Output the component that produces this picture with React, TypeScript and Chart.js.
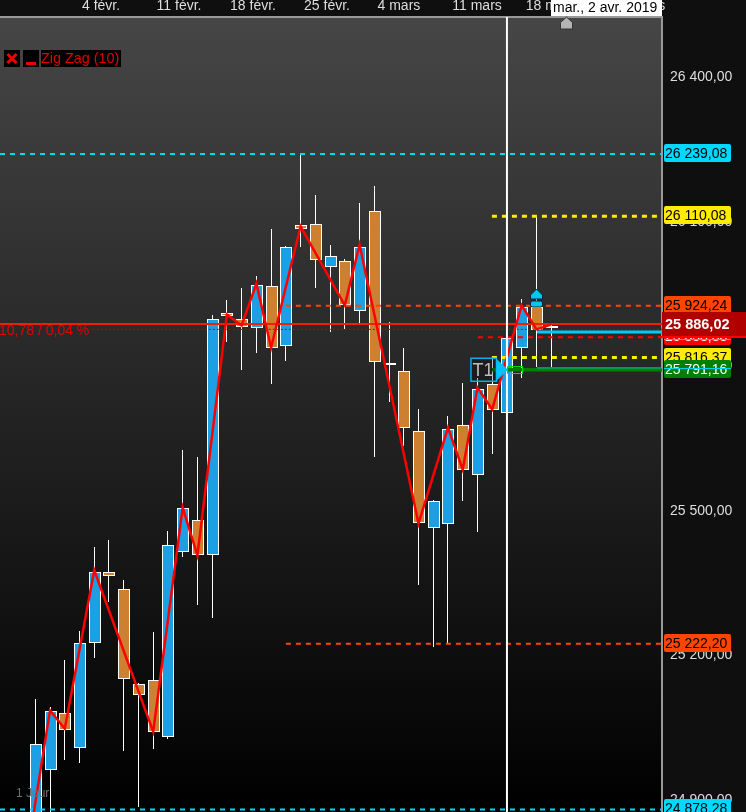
import React, { useEffect, useRef } from "react";
import { Chart, registerables } from "chart.js";

Chart.register(...registerables);

const FONT = '"Liberation Sans", Arial, sans-serif';

// Candles (index 0 = 29 janv.)
const opens = [24850, 24961, 25078, 25005, 25223, 25372, 25337, 25138, 25148, 25028, 25412, 25480, 25406, 25910, 25896, 25877, 25966, 25840, 26091, 26093, 26004, 26016, 25914, 26120, 25806, 25788, 25665, 25462, 25470, 25676, 25572, 25761, 25702, 25837, 25922, 25877];
const closes = [25015, 25082, 25044, 25223, 25372, 25362, 25150, 25115, 25040, 25428, 25505, 25406, 25896, 25902, 25879, 25968, 25837, 26047, 26084, 26020, 26028, 25925, 26047, 25808, 25802, 25671, 25472, 25518, 25669, 25584, 25752, 25707, 25858, 25922, 25873, 25881];
const highs = [25107, 25090, 25188, 25248, 25424, 25437, 25354, 25140, 25246, 25457, 25624, 25611, 25904, 25937, 25960, 25985, 26084, 26049, 26236, 26153, 26051, 26022, 26138, 26172, 25891, 25837, 25709, 25520, 25696, 25763, 25775, 25817, 25873, 25939, 26109, 25889];
const lows = [24830, 24874, 24980, 24974, 25192, 25310, 24999, 24884, 25003, 25024, 25403, 25302, 25275, 25848, 25790, 25825, 25761, 25810, 26047, 25960, 25869, 25875, 25889, 25609, 25725, 25632, 25345, 25215, 25221, 25518, 25455, 25617, 25696, 25775, 25796, 25796];

// Zig Zag (10)
const zigIndex = [-1, 1, 2, 4, 8, 10, 11, 13, 14, 15, 16, 18, 21, 22, 26, 28, 29, 30, 31, 33, 34, 35];
const zigValue = [24700, 25084, 25046, 25375, 25040, 25505, 25406, 25906, 25883, 25970, 25837, 26089, 25925, 26051, 25472, 25671, 25584, 25754, 25709, 25925, 25875, 25885];

// Axes
const xMin = -2.395;
const xMax = 42.52;
const yMin = 24873;
const yMax = 26523.5;
const xTickValues = [4.46, 9.75, 14.77, 19.79, 24.67, 29.97, 34.99, 41.03];
const xTickLabels = ["4 févr.", "11 févr.", "18 févr.", "25 févr.", "4 mars", "11 mars", "18 mars", "25 mars"];
const crosshairIndex = 32;

// Price levels: value, first index, colour, width, dash
const levelValues = [26239.08, 26110.08, 25924.24, 25886.02, 25875, 25869.6, 25858.38, 25816.37, 25795, 25791.16, 25222.2, 24878.28];
const levelStarts = [xMin, 30.98, 17, xMin, 3.9, 34.04, 30.03, 30.98, 34.04, 30.98, 17, xMin];
const levelColors = ["#00d8ff", "#ffec00", "#ff4500", "#f02000", "#c80000", "#00c8ff", "#ff0000", "#ffec00", "#00c0e8", "#008000", "#ff4500", "#00d8ff"];
const levelWidths = [2, 3, 2, 2, 1, 3, 2, 3, 1, 3.5, 2, 2];
const levelDashes = [[5, 5], [5, 5], [5, 5], [], [2, 2], [], [5, 5], [5, 5], [], [], [5, 5], [5, 5]];

// Badges on the price axis
const badgeValues = [26239.08, 26110.08, 25222.2, 24878.28, 25858.38, 25924.24, 25816.37, 25791.16];
const badgeLabels = ["26 239,08", "26 110,08", "25 222,20", "24 878,28", "25 858,38", "25 924,24", "25 816,37", "25 791,16"];
const badgeFills = ["#00d8ff", "#ffec00", "#ff4500", "#00d8ff", "#ff0000", "#ff4500", "#ffec00", "#008000"];
const badgeInks = ["#000", "#000", "#000", "#000", "#fff", "#000", "#000", "#fff"];

const priceLabel = (v: number) => {
  const s = v.toFixed(2).replace(".", ",");
  return s.slice(0, 2) + " " + s.slice(2);
};

const candleLook = {
  up: "#1ca0e3",
  down: "#cc8030",
};

const overlays = {
  id: "overlays",
  beforeDraw(chart: any) {
    const { ctx, chartArea: a, width, height } = chart;
    ctx.save();
    ctx.fillStyle = "#0f0f0f";
    ctx.fillRect(0, 0, width, height);
    const g = ctx.createLinearGradient(0, a.top, 0, a.bottom);
    g.addColorStop(0, "#464646");
    g.addColorStop(1, "#000000");
    ctx.fillStyle = g;
    ctx.fillRect(a.left, a.top, a.right - a.left, a.bottom - a.top);
    ctx.restore();
  },
  beforeDatasetsDraw(chart: any) {
    chart.data.datasets.forEach((d: any, i: number) => {
      if (d.type === "line") return;
      chart.getDatasetMeta(i).data.forEach((el: any, k: number) => {
        const snapped = Math.round(chart.scales.x.getPixelForValue(d.data[k].x) - 0.5) + 0.5;
        el.x = i === 1 ? snapped + 0.5 : snapped;
        el.y = Math.round(el.y);
        el.base = Math.round(el.base);
      });
    });
  },
  afterDraw(chart: any) {
    const { ctx, scales, chartArea: a, width } = chart;
    const X = (v: number) => scales.x.getPixelForValue(v);
    const Y = (v: number) => scales.y.getPixelForValue(v);
    ctx.save();
    ctx.textBaseline = "middle";
    ctx.textAlign = "left";

    // Badges
    ctx.font = `14px ${FONT}`;
    badgeValues.forEach((v, i) => {
      const cy = Math.round(Y(v)) - 1;
      ctx.fillStyle = badgeFills[i];
      ctx.beginPath();
      ctx.roundRect(a.right + 2, cy - 9, 67, 18, 2);
      ctx.fill();
      ctx.fillStyle = badgeInks[i];
      ctx.fillText(badgeLabels[i], a.right + 3, cy + 1);
    });
    // Cyan level edges over two badges
    ctx.fillStyle = "#00d0f0";
    ctx.fillRect(a.right + 2, Math.round(Y(25854)), 67, 1);
    ctx.fillRect(a.right + 2, Math.round(Y(25795)), 67, 1);

    // Last price
    const ly = Y(25886.02);
    ctx.fillStyle = "#b00000";
    ctx.fillRect(a.right, Math.round(ly) - 12, width - a.right, 25);
    ctx.fillStyle = "#fff";
    ctx.font = `bold 14.5px ${FONT}`;
    ctx.fillText(priceLabel(25886.02), a.right + 3, ly + 1);
    ctx.fillStyle = "#ff0000";
    ctx.fillRect(a.right - 4, Math.round(Y(25858.38)) - 1, width - a.right + 4, 2);

    // Variation label
    ctx.font = `14px ${FONT}`;
    ctx.fillStyle = "#e60000";
    ctx.fillText("10,78 / 0,04 %", a.left - 1, Y(25875) + 2);

    // Legend
    ctx.fillStyle = "#000";
    ctx.fillRect(4, 50, 16, 17);
    ctx.fillRect(23, 50, 16, 17);
    ctx.fillRect(41, 50, 80, 17);
    ctx.strokeStyle = "#f00000";
    ctx.lineWidth = 3;
    ctx.beginPath();
    ctx.moveTo(7.5, 54);
    ctx.lineTo(16.5, 63);
    ctx.moveTo(16.5, 54);
    ctx.lineTo(7.5, 63);
    ctx.stroke();
    ctx.fillStyle = "#f00000";
    ctx.fillRect(26, 62, 10, 3);
    ctx.font = `14.4px ${FONT}`;
    ctx.fillStyle = "#e60000";
    ctx.fillText("Zig Zag (10)", 41, 59);

    // Period
    ctx.fillStyle = "#707070";
    ctx.font = `12px ${FONT}`;
    ctx.fillText("1 Jour", 16, 794);

    // Alert marker on candle index 34
    const mx = Math.round(X(34)) + 0.5;
    const my = Math.round(Y(25958));
    ctx.fillStyle = "#00c8f0";
    ctx.strokeStyle = "#102030";
    ctx.lineWidth = 1;
    ctx.beginPath();
    ctx.moveTo(mx, my);
    ctx.lineTo(mx + 6, my + 6);
    ctx.lineTo(mx + 6, my + 10);
    ctx.lineTo(mx - 6, my + 10);
    ctx.lineTo(mx - 6, my + 6);
    ctx.closePath();
    ctx.fill();
    ctx.stroke();
    ctx.beginPath();
    ctx.roundRect(mx - 6, my + 12, 12, 6, 2);
    ctx.fill();
    ctx.stroke();

    // T1 order flag
    const tx = X(31.22);
    const ty = Y(25791.16);
    ctx.strokeStyle = "#00b0f0";
    ctx.lineWidth = 1.5;
    ctx.fillStyle = "rgba(0,0,0,0.25)";
    ctx.fillRect(tx - 24.5, ty - 11.5, 25.5, 23);
    ctx.strokeRect(tx - 24.5, ty - 11.5, 25.5, 23);
    ctx.fillStyle = "#bdbdbd";
    ctx.font = `18px ${FONT}`;
    ctx.fillText("T1", tx - 23, ty + 1);
    ctx.fillStyle = "#00c0ff";
    ctx.beginPath();
    ctx.moveTo(tx + 1, ty - 11);
    ctx.lineTo(tx + 12.5, ty);
    ctx.lineTo(tx + 1, ty + 11);
    ctx.closePath();
    ctx.fill();
    ctx.strokeStyle = "#00e000";
    ctx.lineWidth = 1;
    ctx.strokeRect(Math.round(X(crosshairIndex)) + 0.5, Math.round(ty) - 3.5, 15, 7);

    // Crosshair date box
    ctx.fillStyle = "#fff";
    ctx.fillRect(551, 0, a.right - 551, 16);
    ctx.fillStyle = "#000";
    ctx.font = `14px ${FONT}`;
    ctx.fillText("mar., 2 avr. 2019", 553, 8);
    ctx.fillStyle = "#b4b4b4";
    ctx.strokeStyle = "#333";
    ctx.lineWidth = 1;
    ctx.beginPath();
    ctx.moveTo(566.5, 17);
    ctx.lineTo(572.5, 22.5);
    ctx.lineTo(572.5, 29);
    ctx.lineTo(560.5, 29);
    ctx.lineTo(560.5, 22.5);
    ctx.closePath();
    ctx.fill();
    ctx.stroke();
    ctx.restore();
  },
};

export default function App() {
  const ref = useRef<HTMLCanvasElement | null>(null);

  useEffect(() => {
    if (!ref.current) return;
    const idx = opens.map((_, i) => i);
    const levelSets = levelValues.map((v, i) => ({
      type: "line" as const,
      data: [
        { x: levelStarts[i], y: v },
        { x: xMax, y: v },
      ],
      borderColor: levelColors[i],
      borderWidth: levelWidths[i],
      borderDash: levelDashes[i],
      pointRadius: 0,
      order: 10,
    }));
    const chart = new Chart(ref.current, {
      type: "bar",
      data: {
        datasets: [
          {
            data: idx.map((i) => ({ x: i, y: [lows[i], highs[i]] })),
            backgroundColor: "#ffffff",
            barThickness: 1,
            borderWidth: 0,
            inflateAmount: 0,
            grouped: false,
            order: 30,
          },
          {
            data: idx.map((i) => ({ x: i, y: [Math.min(opens[i], closes[i]), Math.max(opens[i], closes[i])] })),
            backgroundColor: idx.map((i) => (closes[i] >= opens[i] ? candleLook.up : candleLook.down)),
            borderColor: "#ffffff",
            borderWidth: 1,
            borderSkipped: false,
            inflateAmount: 0,
            barThickness: 12,
            grouped: false,
            order: 20,
          },
          ...levelSets,
          {
            type: "line" as const,
            data: zigIndex.map((x, i) => ({ x, y: zigValue[i] })),
            borderColor: "#ff0000",
            borderWidth: 2.5,
            pointRadius: 0,
            tension: 0,
            order: 5,
          },
          {
            type: "line" as const,
            data: [
              { x: crosshairIndex, y: yMin },
              { x: crosshairIndex, y: yMax },
            ],
            borderColor: "#ffffff",
            borderWidth: 2,
            pointRadius: 0,
            order: 1,
          },
        ] as any,
      },
      options: {
        responsive: false,
        animation: false,
        layout: { padding: 0 },
        plugins: { legend: { display: false }, tooltip: { enabled: false } },
        scales: {
          x: {
            type: "linear",
            position: "top",
            min: xMin,
            max: xMax,
            offset: false,
            grid: { display: false, drawTicks: false },
            border: { display: true, color: "#999999", width: 2 },
            afterBuildTicks: (s: any) => {
              s.ticks = xTickValues.map((value) => ({ value }));
            },
            afterFit: (s: any) => {
              s.height = 17;
              s.paddingLeft = 0;
              s.paddingRight = 0;
              s.paddingTop = 0;
              s.paddingBottom = 0;
            },
            ticks: {
              autoSkip: false,
              maxRotation: 0,
              padding: 2,
              color: "#dedede",
              font: { family: FONT, size: 14 },
              callback: (_v: any, i: number) => xTickLabels[i],
            },
          },
          y: {
            type: "linear",
            position: "right",
            min: yMin,
            max: yMax,
            grid: { display: false, drawTicks: false },
            border: { display: true, color: "#999999", width: 2 },
            afterBuildTicks: (s: any) => {
              s.ticks = [26400, 26100, 25800, 25500, 25200, 24900].map((value) => ({ value }));
            },
            afterFit: (s: any) => {
              s.width = 84;
              s.paddingLeft = 0;
              s.paddingRight = 0;
              s.paddingTop = 0;
              s.paddingBottom = 0;
            },
            ticks: {
              padding: 8,
              labelOffset: 1,
              color: "#dedede",
              font: { family: FONT, size: 14 },
              callback: (v: any) => priceLabel(Number(v)),
            },
          },
        },
      } as any,
      plugins: [overlays],
    });
    return () => chart.destroy();
  }, []);

  return (
    <div style={{ position: "absolute", left: 0, top: 0, width: 746, height: 812 }}>
      <canvas ref={ref} width={746} height={812} style={{ display: "block" }} />
    </div>
  );
}
